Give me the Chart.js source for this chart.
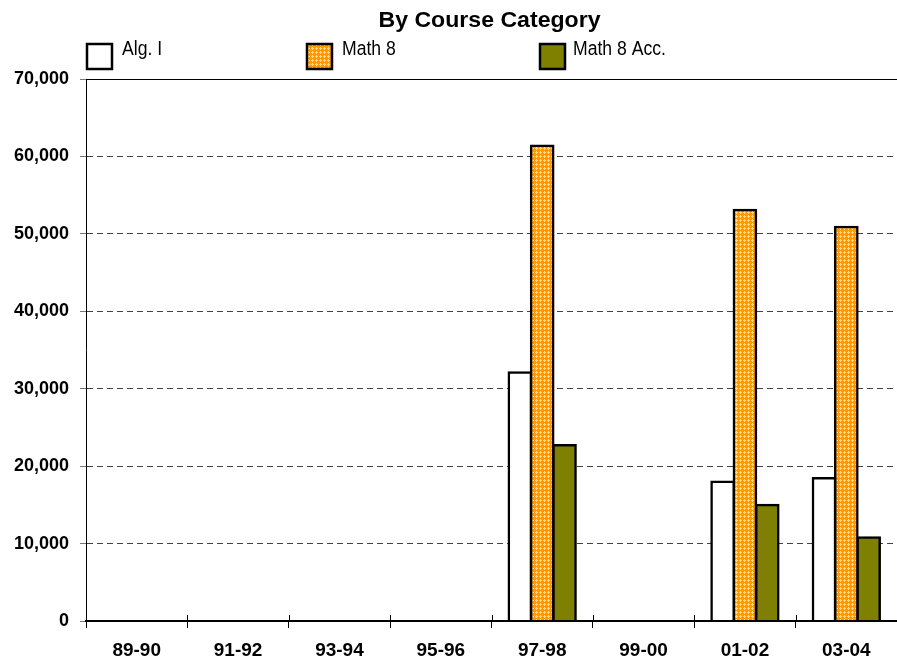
<!DOCTYPE html>
<html>
<head>
<meta charset="utf-8">
<script src="https://cdn.jsdelivr.net/npm/chart.js@4.4.0/dist/chart.umd.min.js"></script>
<style>
  html, body { margin: 0; padding: 0; background: #fff; overflow: hidden; }
</style>
</head>
<body>
<canvas id="chart" width="897" height="665"></canvas>
<script>
const years = ["89-90", "91-92", "93-94", "95-96", "97-98", "99-00", "01-02", "03-04"];
const algI = [null, null, null, null, 32100, null, 18000, 18450];
const math8 = [null, null, null, null, 61400, null, 53100, 50900];
const math8Acc = [null, null, null, null, 22700, null, 15000, 10800];
const seriesNames = ["Alg. I", "Math 8", "Math 8 Acc."];

const FONT = "'Liberation Sans', Arial, sans-serif";

// orange fill with small light crosses, like the Excel pattern
function orangePattern() {
  const c = document.createElement("canvas");
  c.width = 4;
  c.height = 4;
  const g = c.getContext("2d");
  g.fillStyle = "#FF9900";
  g.fillRect(0, 0, 4, 4);
  g.fillStyle = "#FFD8A0";
  [[0, 0], [1, 0], [3, 0], [0, 1], [0, 3]].forEach(([x, y]) => g.fillRect(x, y, 1, 1));
  return g.createPattern(c, "repeat");
}

const fills = ["#FFFFFF", orangePattern(), "#808000"];

const decor = {
  id: "decor",
  afterDraw(chart) {
    const { ctx, chartArea, scales } = chart;
    ctx.save();

    // title
    ctx.fillStyle = "#000";
    ctx.font = "bold 22px " + FONT;
    ctx.textAlign = "center";
    ctx.textBaseline = "alphabetic";
    const tx = (chartArea.left + chartArea.right) / 2 - 2;
    ctx.save();
    ctx.translate(tx, 27);
    ctx.scale(1.05, 1);
    ctx.fillText("By Course Category", 0, 0);
    ctx.restore();

    // legend (text squeezed a bit, the original uses a narrow face)
    const boxX = [87, 307, 540];
    const textX = [122, 342, 573];
    ctx.font = "20px " + FONT;
    ctx.textAlign = "left";
    seriesNames.forEach((name, i) => {
      ctx.fillStyle = fills[i];
      ctx.fillRect(boxX[i], 44, 25, 25);
      ctx.lineWidth = 2.5;
      ctx.strokeStyle = "#000";
      ctx.strokeRect(boxX[i], 44, 25, 25);
      ctx.fillStyle = "#000";
      ctx.save();
      ctx.translate(textX[i], 55);
      ctx.scale(0.88, 1);
      ctx.fillText(name, 0, 0);
      ctx.restore();
    });

    // category separators poke above the x axis too
    const x = scales.x;
    const half = (x.getPixelForValue(1) - x.getPixelForValue(0)) / 2;
    ctx.lineWidth = 1;
    ctx.strokeStyle = "#000";
    ctx.beginPath();
    for (let i = 1; i < years.length; i++) {
      const px = Math.round(x.getPixelForValue(i) - half) + 0.5;
      ctx.moveTo(px, chartArea.bottom - 6);
      ctx.lineTo(px, chartArea.bottom);
    }
    ctx.stroke();
    ctx.restore();
  }
};

new Chart(document.getElementById("chart"), {
  type: "bar",
  data: {
    labels: years,
    datasets: [algI, math8, math8Acc].map((d, i) => ({
      label: seriesNames[i],
      data: d,
      backgroundColor: fills[i],
      borderColor: "#000",
      borderWidth: 2.5,
      inflateAmount: 1.2,
      borderSkipped: "bottom",
      barPercentage: 1,
      categoryPercentage: 0.66
    }))
  },
  options: {
    responsive: false,
    animation: false,
    devicePixelRatio: 1,
    layout: { padding: { top: 79, right: 0, left: 0, bottom: 0 } },
    plugins: {
      legend: { display: false },
      title: { display: false },
      tooltip: { enabled: false }
    },
    scales: {
      x: {
        grid: {
          offset: true,
          drawOnChartArea: false,
          tickLength: 7,
          color: "#000"
        },
        border: { color: "#000", width: 2, z: 1 },
        ticks: {
          color: "#000",
          font: { family: FONT, size: 19, weight: "bold" },
          padding: 11,
          maxRotation: 0
        },
        afterFit: (s) => { s.height = 44; }
      },
      y: {
        min: 0,
        max: 70000,
        grid: {
          color: (c) => (c.tick && c.tick.value === 70000 ? "#000" : "#444"),
          tickColor: "#777",
          tickLength: 6
        },
        border: {
          color: "#000",
          width: 1,
          dash: (c) => (c.tick && c.tick.value === 70000 ? [] : [6, 4])
        },
        ticks: {
          stepSize: 10000,
          color: "#000",
          padding: 11,
          font: { family: FONT, size: 18, weight: "bold" },
          callback: (v) => v.toLocaleString("en-US")
        },
        afterFit: (s) => { s.width = 86; }
      }
    }
  },
  plugins: [decor]
});
</script>
</body>
</html>
